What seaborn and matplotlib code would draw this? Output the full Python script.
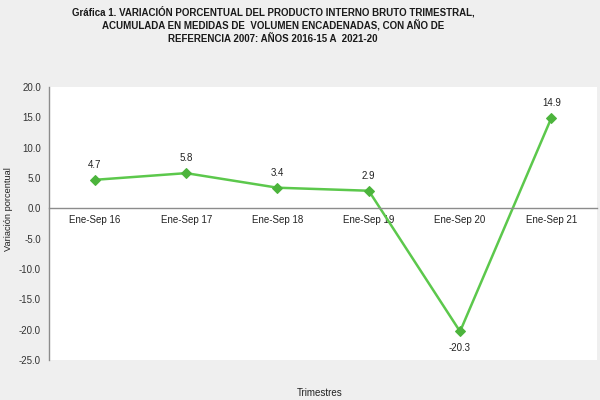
import matplotlib
matplotlib.use("Agg")
import matplotlib.pyplot as plt
import seaborn as sns
import pandas as pd
from matplotlib.ticker import FixedLocator, FormatStrFormatter

categories = ["Ene-Sep 16", "Ene-Sep 17", "Ene-Sep 18", "Ene-Sep 19", "Ene-Sep 20", "Ene-Sep 21"]
values = [4.7, 5.8, 3.4, 2.9, -20.3, 14.9]
title_text = ("Gráfica 1. VARIACIÓN PORCENTUAL DEL PRODUCTO INTERNO BRUTO TRIMESTRAL,\n"
              "ACUMULADA EN MEDIDAS DE  VOLUMEN ENCADENADAS, CON AÑO DE\n"
              "REFERENCIA 2007: AÑOS 2016-15 A  2021-20")
y_ticks = [-25, -20, -15, -10, -5, 0, 5, 10, 15, 20]

sns.set_theme(style="white")
plt.rcParams['font.family'] = ['Liberation Sans', 'DejaVu Sans']

df = pd.DataFrame({"pos": range(len(categories)), "val": values})

fig = plt.figure(figsize=(6, 4), dpi=100, facecolor="#efefef")
ax = fig.add_axes([0.082, 0.10, 0.913, 0.6825])
ax.set_facecolor("white")

sns.lineplot(data=df, x="pos", y="val", ax=ax, color="#5cc84c", linewidth=1.8,
             marker="D", markersize=5.5, markerfacecolor="#4cb43c",
             markeredgecolor="#4cb43c")

for i, v in enumerate(values):
    if v < 0:
        ax.annotate(f"{v:.1f}", (i, v), xytext=(0, -8), textcoords="offset points",
                    ha="center", va="top", fontsize=7, color="#222222")
    else:
        ax.annotate(f"{v:.1f}", (i, v), xytext=(0, 7), textcoords="offset points",
                    ha="center", va="bottom", fontsize=7, color="#222222")

ax.set_xlim(-0.5, len(categories) - 0.5)
ax.set_ylim(-25, 20)
ax.yaxis.set_major_locator(FixedLocator(y_ticks))
ax.yaxis.set_major_formatter(FormatStrFormatter("%.1f"))

ax.set_xticks(range(len(categories)))
ax.set_xticklabels(categories)
ax.set_xticks([i - 0.5 for i in range(len(categories) + 1)], minor=True)

for s in ["top", "right"]:
    ax.spines[s].set_visible(False)
ax.spines["bottom"].set_position(("data", 0))
ax.spines["bottom"].set_color("#8c8c8c")
ax.spines["left"].set_color("#8c8c8c")
ax.spines["bottom"].set_linewidth(1)
ax.spines["left"].set_linewidth(1)

ax.tick_params(axis="x", which="major", length=0, pad=5, labelsize=7, labelcolor="#222222")
ax.tick_params(axis="x", which="minor", length=3, direction="in", color="#8c8c8c", width=0.8)
ax.tick_params(axis="y", which="major", length=3, direction="out", color="#8c8c8c",
               labelsize=7, labelcolor="#333333", pad=3, width=0.8)

ax.set_xlabel("")
ax.set_ylabel("")
fig.text(0.014, 0.478, "Variación porcentual", rotation=90, ha="center", va="center",
         fontsize=6.7, color="#222222")
fig.text(0.533, 0.018, "Trimestres", ha="center", va="center", fontsize=7, color="#222222")

fig.text(0.455, 0.985, title_text, ha="center", va="top", fontsize=7.0,
         fontweight="bold", color="#1a1a1a", linespacing=1.3)

fig.savefig("out.png", dpi=100, facecolor=fig.get_facecolor())
